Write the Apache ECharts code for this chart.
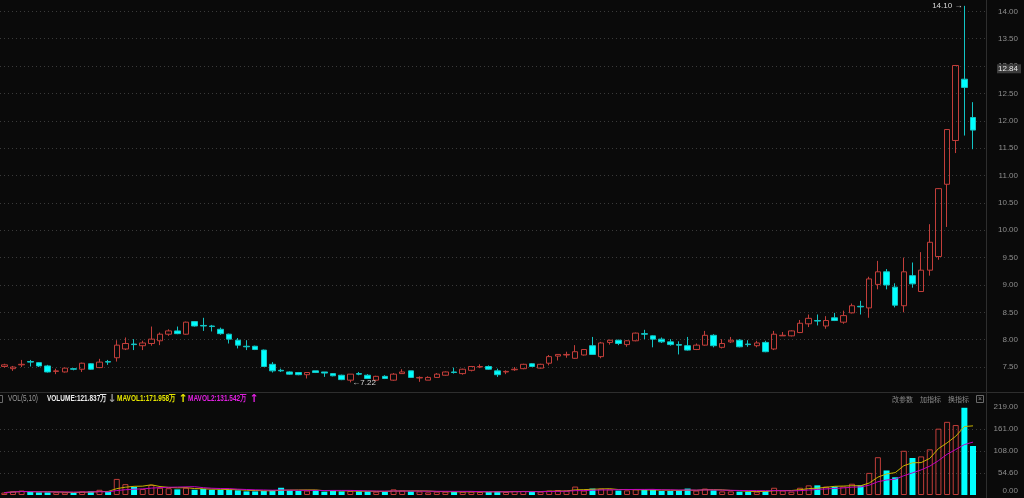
<!DOCTYPE html>
<html><head><meta charset="utf-8">
<script src="https://cdn.jsdelivr.net/npm/echarts@6/dist/echarts.min.js"></script>
<style>html,body{margin:0;padding:0;background:#0a0a0a;}#c{width:1024px;height:498px;}</style>
</head><body><div id="c"></div>
<script>
// ---- data ----
const opens  = [7.51,7.47,7.54,7.60,7.58,7.52,7.42,7.41,7.47,7.46,7.56,7.49,7.60,7.67,7.83,7.92,7.89,7.93,7.98,8.10,
8.16,8.10,8.33,8.26,8.25,8.19,8.10,7.99,7.88,7.88,7.81,7.55,7.44,7.41,7.40,7.36,7.43,7.41,7.38,7.35,
7.26,7.38,7.35,7.26,7.33,7.26,7.38,7.43,7.30,7.26,7.31,7.35,7.41,7.38,7.44,7.50,7.51,7.43,7.41,7.45,
7.47,7.56,7.48,7.57,7.70,7.72,7.66,7.72,7.89,7.69,7.95,7.99,7.91,7.98,8.11,8.07,8.01,7.96,7.91,7.89,
7.82,7.90,8.08,7.86,7.96,7.99,7.92,7.89,7.95,7.83,8.07,8.07,8.13,8.29,8.35,8.25,8.40,8.32,8.49,8.61,
8.58,9.01,9.24,8.96,8.62,9.17,8.88,9.27,9.52,10.84,11.64,12.76,12.06];
const closes = [7.54,7.50,7.55,7.59,7.52,7.41,7.43,7.48,7.46,7.57,7.46,7.59,7.59,7.90,7.93,7.91,7.94,8.01,8.10,8.16,
8.11,8.32,8.25,8.25,8.24,8.11,8.01,7.90,7.87,7.82,7.51,7.43,7.43,7.37,7.36,7.40,7.40,7.39,7.34,7.27,
7.37,7.37,7.29,7.33,7.29,7.37,7.41,7.31,7.31,7.31,7.37,7.41,7.40,7.46,7.51,7.51,7.46,7.36,7.42,7.46,
7.55,7.51,7.55,7.69,7.73,7.73,7.78,7.82,7.73,7.94,7.99,7.93,7.98,8.12,8.10,8.01,7.96,7.91,7.90,7.81,
7.90,8.08,7.89,7.93,7.99,7.87,7.91,7.94,7.78,8.10,8.08,8.16,8.30,8.39,8.34,8.35,8.35,8.44,8.62,8.60,
9.11,9.24,9.00,8.63,9.24,9.02,9.27,9.78,10.76,11.84,13.01,12.61,11.83];
const lows   = [7.49,7.43,7.50,7.51,7.50,7.40,7.37,7.40,7.44,7.41,7.45,7.48,7.54,7.60,7.81,7.81,7.81,7.89,7.90,8.07,
8.10,8.09,8.24,8.16,8.15,8.09,7.93,7.84,7.81,7.81,7.50,7.40,7.41,7.36,7.35,7.29,7.39,7.32,7.33,7.26,
7.22,7.35,7.28,7.25,7.28,7.25,7.38,7.30,7.23,7.26,7.30,7.34,7.38,7.36,7.42,7.48,7.45,7.32,7.37,7.43,
7.46,7.50,7.47,7.53,7.62,7.67,7.65,7.71,7.72,7.66,7.91,7.90,7.87,7.97,8.01,7.86,7.94,7.89,7.73,7.80,
7.81,7.89,7.86,7.84,7.94,7.86,7.87,7.86,7.77,7.81,8.07,8.06,8.12,8.23,8.26,8.20,8.34,8.29,8.48,8.46,
8.40,8.92,8.92,8.59,8.50,8.95,8.88,9.17,9.46,10.06,11.41,11.73,11.48];
const highs  = [7.56,7.52,7.63,7.63,7.59,7.54,7.47,7.49,7.48,7.58,7.57,7.65,7.63,7.99,8.04,8.01,7.98,8.24,8.13,8.19,
8.24,8.33,8.34,8.40,8.27,8.22,8.11,8.03,7.99,7.89,7.82,7.59,7.47,7.42,7.41,7.40,7.43,7.41,7.39,7.36,
7.37,7.41,7.37,7.34,7.35,7.39,7.46,7.43,7.33,7.33,7.39,7.42,7.49,7.47,7.52,7.55,7.53,7.47,7.44,7.50,
7.56,7.57,7.56,7.72,7.73,7.78,7.90,7.83,8.05,7.96,8.00,8.00,7.99,8.13,8.18,8.08,8.04,8.01,7.97,8.05,
7.93,8.16,8.10,8.01,8.05,8.01,7.99,7.98,7.98,8.16,8.14,8.17,8.36,8.46,8.46,8.43,8.49,8.53,8.66,8.71,
9.15,9.44,9.29,9.03,9.50,9.41,9.60,10.11,10.77,11.85,13.02,14.10,12.34];
const volumes = [6,9,11,7.5,6.6,6.6,7,6.6,5,9,9,13,8,40,27,20,15,25,18,17,
14,18,13,15,13,13,13,11.6,9,9,10,12.4,18,11.6,10,11,12.4,8.3,11,9,
10,9,9,8.3,8.3,14,11,9,9,6.6,8.3,8.3,7.5,8.3,8.3,7.5,7.5,9,7.5,10,
10,7.5,8.3,11,12.4,11,21,11,16,16,14,11,11.6,14,13,13,10,10,11.6,16,
11,16,11.6,9,9,8.3,8.3,8.3,10,18,11,8.3,18,24,24,21,21,21,28,24,
55,94,61,44,110,92,96,113.6,165,182,174,217,121.84];
const priceTicks = [7.5, 14.0];            // visible price label range, step 0.5
const volTickLabels = ['0.00','54.60','108.00','161.00','219.00'];
const lastTag = '12.84';
const headerLeft = ['VOL(5,10)','VOLUME:121.837万','MAVOL1:171.958万','MAVOL2:131.542万'];
const headerRight = ['改参数','加指标','换指标'];

// ---- derived ----
const days = opens.map((_, i) => 'D' + (i + 1));
const cats = days.concat(['']);
const candle = opens.map((o, i) => [o, closes[i], lows[i], highs[i]]);
function isUp(i){ if (closes[i] !== opens[i]) return closes[i] > opens[i]; return i === 0 || closes[i] >= closes[i-1]; }
function ma(n){ return volumes.map((_, i) => { const s = Math.max(0, i - n + 1); let t = 0; for (let k = s; k <= i; k++) t += volumes[k]; return +(t / (i - s + 1)).toFixed(3); }); }
const RED = '#c23e3a', CYAN = '#00ffff';
const volData = volumes.map((v, i) => ({ value: v, itemStyle: isUp(i) ? { color: 'transparent', borderColor: RED, borderWidth: 1 } : { color: CYAN } }));

const FONT = "'Liberation Sans',sans-serif";
const CJK = "'Noto Sans CJK SC',sans-serif";
const chart = echarts.init(document.getElementById('c'), null, { renderer: 'canvas' });
const gridL = -6.4, gridW = 992.4;
chart.setOption({
  animation: false,
  backgroundColor: '#0a0a0a',
  grid: [
    { left: gridL, top: 0, width: gridW, height: 394.4 },
    { left: gridL, top: 407.2, width: gridW, height: 87.8 }
  ],
  xAxis: [
    { type: 'category', data: cats, gridIndex: 0, boundaryGap: true, axisLine: { show: false }, axisTick: { show: false }, axisLabel: { show: false }, splitLine: { show: false } },
    { type: 'category', data: cats, gridIndex: 1, boundaryGap: true, axisLine: { show: false }, axisTick: { show: false }, axisLabel: { show: false }, splitLine: { show: false } }
  ],
  yAxis: [
    { type: 'value', gridIndex: 0, position: 'right', min: 7, max: 14.207, interval: 0.5,
      axisLine: { show: false }, axisTick: { show: false },
      axisLabel: { color: '#8e8e8e', fontSize: 8, fontFamily: FONT, align: 'right', margin: 32, showMinLabel: false, showMaxLabel: false,
        formatter: v => (v >= priceTicks[0] && v <= priceTicks[1]) ? v.toFixed(2) : '' },
      splitLine: { show: true, showMinLine: false, showMaxLine: false, lineStyle: { color: '#3a3a3a', type: [1, 3], width: 1 } } },
    { type: 'value', gridIndex: 1, position: 'right', min: 0, max: 218.4, interval: 54.6,
      axisLine: { show: false }, axisTick: { show: false },
      axisLabel: { color: '#8e8e8e', fontSize: 8, fontFamily: FONT, align: 'right', margin: 32,
        formatter: v => { const k = Math.round(v / 54.6); return k === 0 ? '{lo|' + volTickLabels[0] + '}' : volTickLabels[k]; },
        rich: { lo: { color: '#8e8e8e', fontSize: 8, fontFamily: FONT, padding: [0, 0, 9, 0] } } },
      splitLine: { show: true, showMinLine: false, showMaxLine: false, lineStyle: { color: '#3a3a3a', type: [1, 3], width: 1 } } }
  ],
  series: [
    { type: 'candlestick', xAxisIndex: 0, yAxisIndex: 0, data: candle, barWidth: 6,
      itemStyle: { color: 'transparent', color0: CYAN, borderColor: RED, borderColor0: '#12c4c4', borderWidth: 1 },
      markPoint: { symbol: 'circle', symbolSize: 0, silent: true,
        label: { color: '#d8d8d8', fontSize: 8, fontFamily: FONT, distance: 2 },
        data: [
          { type: 'max', valueDim: 'highest', label: { position: 'left', formatter: p => p.value.toFixed(2) + ' →' } },
          { type: 'min', valueDim: 'lowest', label: { position: 'right', formatter: p => '←' + p.value.toFixed(2) } }
        ] }
    },
    { type: 'bar', xAxisIndex: 1, yAxisIndex: 1, data: volData, barWidth: 6 },
    { type: 'line', xAxisIndex: 1, yAxisIndex: 1, data: ma(5), symbol: 'none', lineStyle: { color: '#c8b400', width: 1 }, z: 3 },
    { type: 'line', xAxisIndex: 1, yAxisIndex: 1, data: ma(10), symbol: 'none', lineStyle: { color: '#c000c0', width: 1 }, z: 3 }
  ]
});

// last-price tag placed through the price axis scale
const tagY = chart.convertToPixel({ yAxisIndex: 0 }, +lastTag) - 6;
const hdr = (x, text, fill, bold) => ({ type: 'text', x: x, y: 399, scaleX: 0.72, style: { text: text, fill: fill, font: (bold ? 'bold ' : '') + '9px ' + FONT, verticalAlign: 'middle' }, z: 10 });
const arrow = (x, text, fill) => ({ type: 'text', x: x, y: 399, style: { text: text, fill: fill, font: 'bold 11px DejaVu Sans, sans-serif', align: 'center', verticalAlign: 'middle' }, z: 10 });
chart.setOption({
  graphic: [
    { type: 'line', shape: { x1: 0, y1: 392.5, x2: 1024, y2: 392.5 }, style: { stroke: '#2e2e2e', lineWidth: 1 }, z: 10 },
    { type: 'line', shape: { x1: 986.5, y1: 0, x2: 986.5, y2: 498 }, style: { stroke: '#2e2e2e', lineWidth: 1 }, z: 10 },
    { type: 'rect', shape: { x: -4.5, y: 395.5, width: 7, height: 7 }, style: { fill: 'none', stroke: '#6a6a6a' }, z: 10 },
    hdr(8, headerLeft[0], '#9a9a9a', false),
    hdr(47, headerLeft[1], '#ececec', true),
    arrow(112, '↓', '#9a9a9a'),
    hdr(117, headerLeft[2], '#e6e600', true),
    arrow(183, '↑', '#e6e600'),
    hdr(188, headerLeft[3], '#e020e0', true),
    arrow(254, '↑', '#e020e0'),
    { type: 'text', x: 892, y: 399, style: { text: headerRight[0], fill: '#8a8a8a', font: '7px ' + CJK, verticalAlign: 'middle' }, z: 10 },
    { type: 'text', x: 920, y: 399, style: { text: headerRight[1], fill: '#8a8a8a', font: '7px ' + CJK, verticalAlign: 'middle' }, z: 10 },
    { type: 'text', x: 948, y: 399, style: { text: headerRight[2], fill: '#8a8a8a', font: '7px ' + CJK, verticalAlign: 'middle' }, z: 10 },
    { type: 'rect', shape: { x: 976.5, y: 395.5, width: 7, height: 7 }, style: { fill: 'none', stroke: '#6a6a6a' }, z: 10 },
    { type: 'text', x: 980, y: 399, style: { text: '×', fill: '#8a8a8a', font: '7px ' + FONT, align: 'center', verticalAlign: 'middle' }, z: 10 },
    { type: 'rect', shape: { x: 997, y: tagY - 4.5, width: 24, height: 9 }, style: { fill: '#3c3c3c' }, z: 20 },
    { type: 'text', x: 1018, y: tagY, style: { text: lastTag, fill: '#e6e6e6', font: '8px ' + FONT, align: 'right', verticalAlign: 'middle' }, z: 21 }
  ]
});
</script></body></html>
